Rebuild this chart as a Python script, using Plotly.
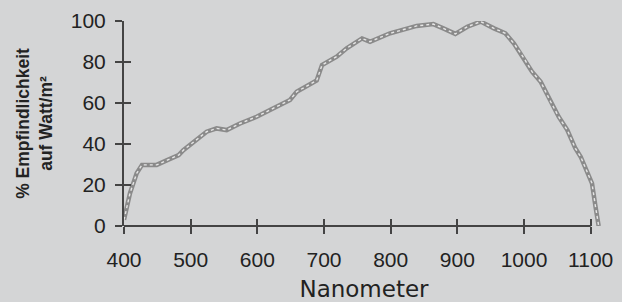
import plotly.graph_objects as go

# Data
wavelength_nm = [400, 402, 409, 419, 427, 434, 449, 464, 482, 489, 499, 514, 524, 539, 554,
                 574, 599, 619, 649, 659, 689, 697, 719, 734, 752, 757, 769, 799, 839, 864,
                 879, 897, 915, 935, 955, 972, 985, 1000, 1012, 1025, 1040, 1052, 1065, 1077,
                 1085, 1097, 1102, 1107, 1112]
sensitivity_pct = [3, 6, 16, 25.7, 29.8, 29.8, 29.8, 32, 34.6, 37, 39.5, 43.5, 46, 47.6, 46.8,
                   50, 53.3, 56.6, 61.5, 65.5, 71, 78.5, 82.6, 86.7, 90.7, 91.5, 89.9, 94, 97.6, 98.5,
                   96.4, 93.7, 97.2, 99.7, 96.4, 94, 89, 81.8, 75.3, 70.4, 60.6, 53.3, 46.8, 37.9,
                   33.8, 24, 20.8, 10, 0]
x_ticks = [400, 500, 600, 700, 800, 900, 1000, 1100]
y_ticks = [0, 20, 40, 60, 80, 100]

BG = "#d4d5d6"
AX = "#444444"
AXW = 2
tickfont = dict(family="Liberation Sans, Arial, sans-serif", size=21, color="#222222")

fig = go.Figure()
fig.add_trace(go.Scatter(x=wavelength_nm, y=sensitivity_pct, mode="lines",
                         line=dict(color="#8a8a8a", width=4.5), hoverinfo="skip",
                         showlegend=False))
fig.add_trace(go.Scatter(x=wavelength_nm, y=sensitivity_pct, mode="lines",
                         line=dict(color="#e6e6e6", width=1.4, dash="dot"), hoverinfo="skip",
                         showlegend=False))
# carrier for the inside-tick overlay axes (invisible)
fig.add_trace(go.Scatter(x=wavelength_nm, y=sensitivity_pct, mode="lines", xaxis="x2",
                         yaxis="y2", line=dict(width=0), opacity=0, hoverinfo="skip",
                         showlegend=False))

xr = [400, 1120]
yr = [0, 100]

fig.update_layout(
    width=622, height=302,
    margin=dict(l=124, r=18, t=21, b=76),
    paper_bgcolor=BG, plot_bgcolor=BG,
    showlegend=False,
    xaxis=dict(range=xr, tickvals=x_ticks, ticks="outside", ticklen=7, tickcolor=AX,
               tickwidth=AXW, showline=False, showgrid=False, zeroline=False, automargin=False,
               tickfont=tickfont, ticklabelstandoff=8,
               title=dict(text="Nanometer",
                          font=dict(family="DejaVu Sans, sans-serif", size=23, color="#222222"),
                          standoff=19)),
    yaxis=dict(range=yr, tickvals=y_ticks, ticks="outside", ticklen=7, tickcolor=AX,
               tickwidth=AXW, showline=True, linecolor=AX, linewidth=AXW, showgrid=False,
               zeroline=False, automargin=False, tickfont=tickfont, ticklabelstandoff=5,
               title=dict(text="<b>% Empfindlichkeit<br>auf Watt/m²</b>",
                          font=dict(family="Liberation Sans, Arial, sans-serif", size=17.5,
                                    color="#222222"),
                          standoff=14)),
    xaxis2=dict(range=xr, overlaying="x", anchor="y2", tickvals=x_ticks, ticks="inside",
                ticklen=7, tickwidth=AXW, tickcolor=AX, showticklabels=False, showgrid=False,
                zeroline=False, showline=False, side="bottom", automargin=False),
    yaxis2=dict(range=yr, overlaying="y", anchor="x2", tickvals=y_ticks, ticks="inside",
                ticklen=7, tickwidth=AXW, tickcolor=AX, showticklabels=False, showgrid=False,
                zeroline=False, showline=False, side="left", automargin=False),
)
# x axis line ends at the last tick (1100), as in the reference
fig.add_shape(type="line", xref="x", yref="paper", x0=x_ticks[0], x1=x_ticks[-1], y0=0, y1=0,
              line=dict(color=AX, width=AXW), layer="above")

fig.write_html("out.html", config={"displayModeBar": False},
               post_script="document.body.style.margin='0';document.body.style.overflow='hidden';")
